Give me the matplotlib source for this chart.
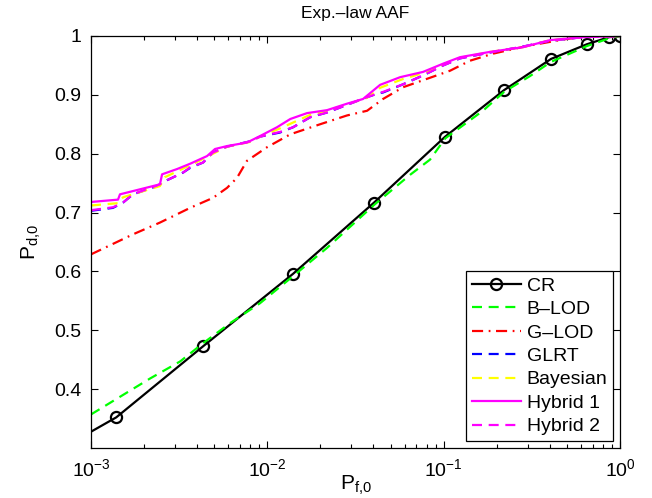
import numpy as np
import matplotlib
matplotlib.use('Agg')
import matplotlib.pyplot as plt
from matplotlib.ticker import LogLocator, NullFormatter

plt.rcParams['font.family'] = ['Liberation Sans', 'DejaVu Sans']
plt.rcParams['mathtext.default'] = 'regular'
plt.rcParams['font.size'] = 14

# CR (with circle markers); first point lies left of the visible range
pf_cr = [4.4e-4, 1.39e-3, 4.33e-3, 1.40e-2, 4.03e-2, 0.102, 0.220, 0.406, 0.649, 0.867, 1.0]
pd_cr = [0.267, 0.352, 0.473, 0.596, 0.717, 0.829, 0.908, 0.961, 0.986, 0.998, 1.0]

pf_blod = [1.0e-3, 1.46e-3, 2.16e-3, 3.20e-3, 4.32e-3, 6.14e-3, 9.09e-3, 1.40e-2, 2.18e-2,
           4.03e-2, 6.44e-2, 8.37e-2, 0.102, 0.167, 0.220, 0.309, 0.406, 0.650, 0.867, 1.0]
pd_blod = [0.357, 0.387, 0.418, 0.447, 0.478, 0.512, 0.546, 0.592, 0.640,
           0.713, 0.764, 0.790, 0.826, 0.873, 0.905, 0.932, 0.956, 0.983, 0.996, 1.0]

pf_glod = [1.0e-3, 1.73e-3, 2.46e-3, 3.65e-3, 4.92e-3, 5.91e-3, 6.73e-3, 7.67e-3, 9.96e-3,
           1.35e-2, 1.99e-2, 2.83e-2, 3.68e-2, 4.53e-2, 5.89e-2, 0.1087, 0.141, 0.1905,
           0.297, 0.475, 0.618, 1.0]
pd_glod = [0.629, 0.663, 0.683, 0.708, 0.725, 0.742, 0.759, 0.788, 0.811,
           0.833, 0.850, 0.865, 0.873, 0.893, 0.913, 0.941, 0.958, 0.970,
           0.983, 0.994, 0.999, 1.0]

pf_glrt = [1.0e-3, 1.333e-3, 1.52e-3, 1.73e-3, 2.37e-3, 2.70e-3, 3.33e-3, 3.65e-3, 4.32e-3,
           4.92e-3, 5.91e-3, 7.97e-3, 9.09e-3, 1.18e-2, 1.40e-2, 1.75e-2, 2.18e-2, 2.83e-2,
           3.68e-2, 4.19e-2, 4.53e-2, 5.89e-2, 7.64e-2, 9.93e-2, 0.1238, 0.183, 0.282,
           0.401, 0.618, 1.0]
pd_glrt = [0.703, 0.708, 0.717, 0.731, 0.745, 0.755, 0.768, 0.776, 0.785,
           0.802, 0.812, 0.821, 0.829, 0.836, 0.845, 0.862, 0.870, 0.883,
           0.896, 0.902, 0.904, 0.918, 0.933, 0.950, 0.962, 0.972, 0.982,
           0.992, 0.998, 1.0]

pf_bay = [1.0e-3, 1.423e-3, 1.52e-3, 2.46e-3, 2.62e-3, 3.08e-3, 3.99e-3, 4.92e-3, 5.91e-3,
          7.97e-3, 9.09e-3, 1.18e-2, 1.40e-2, 1.75e-2, 2.18e-2, 2.83e-2, 3.68e-2, 4.36e-2,
          5.89e-2, 7.64e-2, 9.93e-2, 0.1238, 0.183, 0.282, 0.401, 0.618, 1.0]
pd_bay = [0.712, 0.716, 0.726, 0.745, 0.760, 0.770, 0.786, 0.800, 0.812,
          0.820, 0.829, 0.843, 0.853, 0.866, 0.873, 0.884, 0.895, 0.912,
          0.927, 0.937, 0.951, 0.963, 0.973, 0.981, 0.993, 0.998, 1.0]

pf_hyb1 = [1.0e-3, 1.423e-3, 1.46e-3, 2.46e-3, 2.53e-3, 3.08e-3, 3.65e-3, 4.55e-3, 5.05e-3,
           5.91e-3, 7.67e-3, 9.09e-3, 1.135e-2, 1.35e-2, 1.68e-2, 2.18e-2, 2.83e-2, 3.49e-2,
           4.36e-2, 5.66e-2, 7.64e-2, 9.93e-2, 0.1238, 0.183, 0.282, 0.401, 0.618, 1.0]
pd_hyb1 = [0.718, 0.722, 0.731, 0.748, 0.765, 0.774, 0.783, 0.796, 0.808,
           0.813, 0.819, 0.830, 0.845, 0.859, 0.869, 0.874, 0.885, 0.893,
           0.917, 0.930, 0.939, 0.953, 0.964, 0.973, 0.981, 0.993, 0.998, 1.0]

# Hybrid 2 sits almost exactly on GLRT
pf_hyb2 = pf_glrt
pd_hyb2 = [0.704, 0.709, 0.717, 0.731, 0.746, 0.755, 0.768, 0.777, 0.785,
           0.802, 0.812, 0.821, 0.829, 0.837, 0.845, 0.862, 0.870, 0.883,
           0.896, 0.902, 0.905, 0.918, 0.933, 0.950, 0.962, 0.972, 0.982,
           0.992, 0.998, 1.0]

fig = plt.figure(figsize=(6.52, 4.98), dpi=100)
ax = fig.add_axes([91/652, 50/498, 529/652, 412/498])

lw = 1.6
dash = (0, (4.5, 3))
ax.semilogx(pf_cr, pd_cr, '-', color='k', lw=lw, marker='o', ms=8, mfc='none', mew=1.6, label='CR')
ax.semilogx(pf_blod, pd_blod, color='#00ff00', lw=lw, ls=dash, label='B\u2013LOD')
ax.semilogx(pf_glod, pd_glod, color='#ff0000', lw=lw, ls=(0, (5, 2.5, 0.8, 2.5)), label='G\u2013LOD')
ax.semilogx(pf_glrt, pd_glrt, color='#0000ff', lw=lw, ls=dash, label='GLRT')
ax.semilogx(pf_bay, pd_bay, color='#ffff00', lw=lw, ls=dash, label='Bayesian')
ax.semilogx(pf_hyb1, pd_hyb1, color='#ff00ff', lw=lw, ls='-', label='Hybrid 1')
ax.semilogx(pf_hyb2, pd_hyb2, color='#ff00ff', lw=lw, ls=dash, label='Hybrid 2')

ax.set_xlim(1e-3, 1)
ax.set_ylim(0.3, 1)
ax.set_yticks([0.4, 0.5, 0.6, 0.7, 0.8, 0.9, 1])
ax.set_yticklabels(['0.4', '0.5', '0.6', '0.7', '0.8', '0.9', '1'])
ax.xaxis.set_minor_locator(LogLocator(base=10, subs=np.arange(2, 10), numticks=20))
ax.xaxis.set_minor_formatter(NullFormatter())
ax.tick_params(which='both', direction='in', top=True, right=True, width=0.8)
ax.tick_params(which='major', length=5, labelsize=14, pad=7)
ax.tick_params(which='minor', length=3)
for s in ax.spines.values():
    s.set_linewidth(0.9)

ax.set_title('Exp.\u2013law AAF', fontsize=12.5, pad=13)
ax.set_xlabel('P$_{f{,}0}$', fontsize=15, labelpad=-4)
ax.set_ylabel('P$_{d{,}0}$', fontsize=15, labelpad=8)

leg = ax.legend(loc='lower right', fontsize=14, handlelength=2.5, handletextpad=0.3,
                labelspacing=0.3, borderaxespad=0.35, fancybox=False, framealpha=1,
                borderpad=0.3)
leg.get_frame().set_edgecolor('k')
leg.get_frame().set_linewidth(0.9)

fig.savefig('out.png', dpi=100)
